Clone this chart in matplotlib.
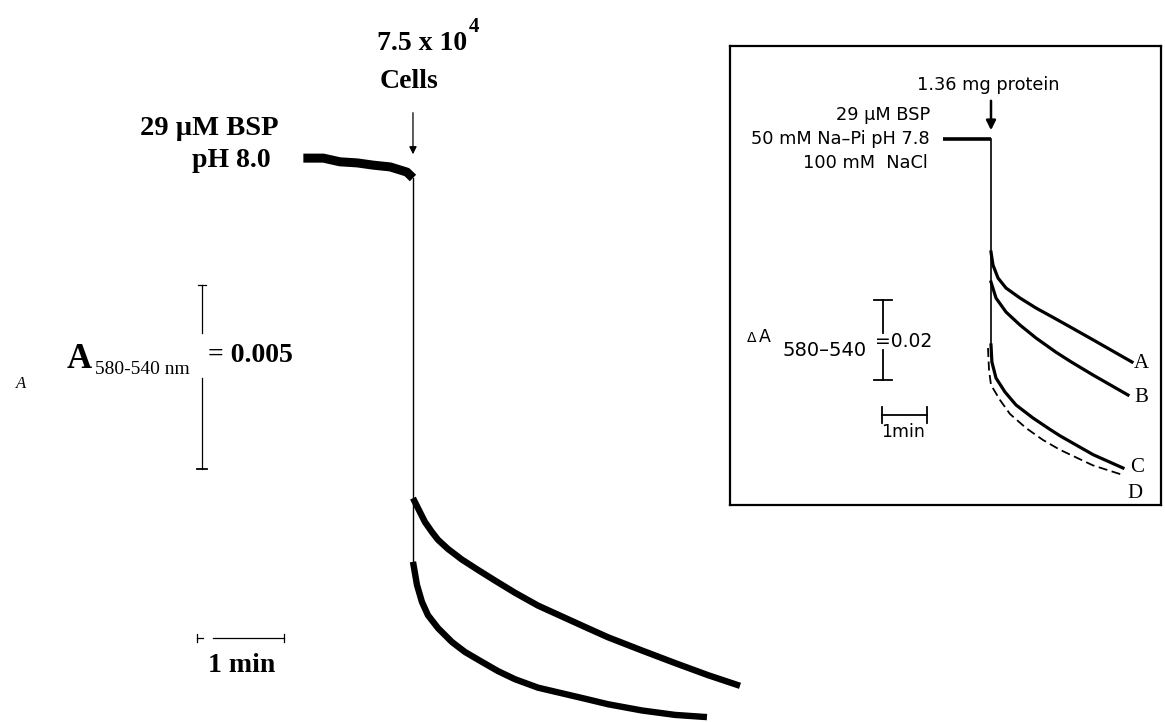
import numpy as np
import matplotlib
matplotlib.use("Agg")
import matplotlib.pyplot as plt

# main panel: time in min after adding cells, absorbance change in units of 0.001
base_t = [-1.26, -1.03, -0.84, -0.64, -0.46, -0.26, -0.07, 0.0]
base_a = [0.54, 0.54, 0.44, 0.41, 0.35, 0.30, 0.16, 0.0]

upper_t = [0.0, 0.057, 0.138, 0.218, 0.287, 0.402, 0.563, 0.747, 0.943, 1.172,
           1.437, 1.977, 2.241, 2.632, 3.011, 3.391, 3.759]
upper_a = [-8.70, -8.97, -9.35, -9.62, -9.83, -10.08, -10.37, -10.65, -10.94, -11.27,
           -11.62, -12.20, -12.48, -12.84, -13.18, -13.51, -13.80]

lower_t = [0.0, 0.046, 0.103, 0.172, 0.287, 0.448, 0.598, 0.793, 0.977, 1.172,
           1.437, 1.977, 2.241, 2.632, 3.011, 3.379]
lower_a = [-10.43, -11.06, -11.52, -11.88, -12.23, -12.61, -12.88, -13.15, -13.40, -13.62,
           -13.85, -14.15, -14.30, -14.47, -14.59, -14.65]

# inset: time in min after protein, absorbance change in units of 0.001
ins_base_t = [-1.07, 0.0]
ins_base_a = [0.0, 0.0]
curve_t = {
    "A": [0.0, 0.044, 0.156, 0.333, 0.644, 1.0, 1.444, 1.778, 2.267, 3.133],
    "B": [0.0, 0.111, 0.333, 0.644, 1.0, 1.444, 1.778, 2.267, 3.044],
    "C": [0.0, 0.02, 0.111, 0.311, 0.556, 0.933, 1.311, 1.533, 2.267, 2.933],
}
curve_a = {
    "A": [-28.25, -31.5, -34.75, -37.25, -39.75, -42.25, -45.0, -47.1, -50.2, -55.75],
    "B": [-35.75, -39.75, -43.25, -46.5, -49.75, -53.3, -55.7, -59.0, -64.0],
    "C": [-51.5, -55.75, -59.75, -63.25, -66.5, -69.75, -72.6, -74.2, -78.9, -82.25],
}
d_t = [-0.067, -0.044, 0.0, 0.2, 0.422, 0.778, 1.156, 1.533, 2.267, 2.933]
d_a = [-52.25, -57.75, -61.5, -65.25, -68.75, -72.25, -75.25, -77.7, -81.6, -84.0]

W, H = 1165, 722
fig = plt.figure(figsize=(W / 100, H / 100), dpi=100)

def fp(x, y):
    return x / W, 1 - y / H

serif = "Liberation Serif"
sans = "DejaVu Sans"

# ---- main panel ----
ax = fig.add_axes([0, 0, 1, 1])
ax.set_xlim(-4.747, 8.644)
ax.set_ylim(-14.783, 4.837)
ax.axis("off")

ax.plot(base_t, base_a, color="black", lw=6.5, solid_capstyle="butt", solid_joinstyle="round")
ax.plot([0, 0], [0, lower_a[0]], color="black", lw=1.0)
ax.plot(upper_t, upper_a, color="black", lw=4.6, solid_capstyle="butt", solid_joinstyle="round")
ax.plot(lower_t, lower_a, color="black", lw=4.6, solid_capstyle="butt", solid_joinstyle="round")

# injection arrow
ax.annotate("", xy=(0, 0.57), xytext=(0, 1.85),
            arrowprops=dict(arrowstyle="-|>", color="black", lw=0.9,
                            mutation_scale=11))

# absorbance scale bar (0.005)
sx = -2.425
ax.plot([sx, sx], [-2.91, -4.21], color="black", lw=0.9)
ax.plot([sx, sx], [-5.43, -7.91], color="black", lw=0.9)
ax.plot([sx - 0.05, sx + 0.05], [-2.91, -2.91], color="black", lw=0.9)
ax.plot([sx - 0.06, sx + 0.06], [-7.91, -7.91], color="black", lw=1.3)
# time bar (1 min)
ax.plot([-2.483, -2.41], [-12.5, -12.5], color="black", lw=0.9)
ax.plot([-2.30, -1.483], [-12.5, -12.5], color="black", lw=0.9)
ax.plot([-2.483, -2.483], [-12.39, -12.61], color="black", lw=0.9)
ax.plot([-1.483, -1.483], [-12.39, -12.61], color="black", lw=0.9)

bold = dict(family=serif, weight="bold", color="black")
fig.text(*fp(377, 50), "7.5 x 10", fontsize=20, va="baseline", **bold)
fig.text(*fp(469, 32), "4", fontsize=15, va="baseline", **bold)
fig.text(*fp(409, 88), "Cells", fontsize=20, ha="center", va="baseline", **bold)
fig.text(*fp(140, 135), "29 \u00b5M BSP", fontsize=20.5, va="baseline", **bold)
fig.text(*fp(192, 167), "pH 8.0", fontsize=20, va="baseline", **bold)
fig.text(*fp(67, 368), "A", fontsize=25, va="baseline", **bold)
fig.text(*fp(95, 374), "580-540 nm", fontsize=14, va="baseline", family=serif)
fig.text(*fp(208, 362), "= 0.005", fontsize=20, va="baseline", **bold)
fig.text(*fp(208, 672), "1 min", fontsize=20, va="baseline", **bold)
fig.text(*fp(16, 388), "A", fontsize=12, style="italic", va="baseline", family=serif)

# ---- inset ----
ins = fig.add_axes([730 / W, (H - 505) / H, 431 / W, 459 / H])
ins.set_xlim(-5.8, 3.778)
ins.set_ylim(-91.5, 23.25)
ins.set_xticks([])
ins.set_yticks([])
for sp in ins.spines.values():
    sp.set_linewidth(1.6)

ins.plot(ins_base_t, ins_base_a, color="black", lw=2.6, solid_capstyle="butt")
ins.plot([0, 0], [0, curve_a["C"][0]], color="black", lw=1.2)
for k in ["A", "B", "C"]:
    ins.plot(curve_t[k], curve_a[k], color="black", lw=2.3, solid_joinstyle="round")
ins.plot(d_t, d_a, color="black", lw=1.3, ls=(0, (5, 2.5)))

ins.annotate("", xy=(0, 1.5), xytext=(0, 10.25),
             arrowprops=dict(arrowstyle="-|>", color="black", lw=1.8,
                             mutation_scale=14))

# scale bars
bx = -2.4
ins.plot([bx, bx], [-40.25, -48.5], color="black", lw=1.3)
ins.plot([bx, bx], [-52.75, -60.25], color="black", lw=1.3)
ins.plot([bx - 0.2, bx + 0.2], [-40.25, -40.25], color="black", lw=1.3)
ins.plot([bx - 0.2, bx + 0.2], [-60.25, -60.25], color="black", lw=1.3)
ins.plot([-2.42, -1.42], [-69.0, -69.0], color="black", lw=1.3)
ins.plot([-2.42, -2.42], [-67.0, -71.0], color="black", lw=1.3)
ins.plot([-1.42, -1.42], [-67.0, -71.0], color="black", lw=1.3)

fs = 12.8
fig.text(*fp(917, 90), "1.36 mg protein", fontsize=fs, va="baseline", family=sans)
fig.text(*fp(930, 120), "29 \u00b5M BSP", fontsize=fs, ha="right", va="baseline", family=sans)
fig.text(*fp(930, 144), "50 mM Na\u2013Pi pH 7.8", fontsize=fs, ha="right", va="baseline", family=sans)
fig.text(*fp(928, 168), "100 mM  NaCl", fontsize=fs, ha="right", va="baseline", family=sans)
fig.text(*fp(747, 342), "\u0394", fontsize=10, va="baseline", family=sans)
fig.text(*fp(759, 342), "A", fontsize=12.5, va="baseline", family=sans)
fig.text(*fp(783, 356), "580\u2013540", fontsize=14, va="baseline", family=sans)
fig.text(*fp(875, 347), "=0.02", fontsize=13.5, va="baseline", family=sans)
fig.text(*fp(881, 437), "1min", fontsize=12.5, va="baseline", family=sans)
for lab, x, y in [("A", 1134, 368), ("B", 1134, 402), ("C", 1130, 472), ("D", 1127, 498)]:
    fig.text(*fp(x, y), lab, fontsize=15, va="baseline", family=serif)

fig.savefig("out.png", dpi=100)
